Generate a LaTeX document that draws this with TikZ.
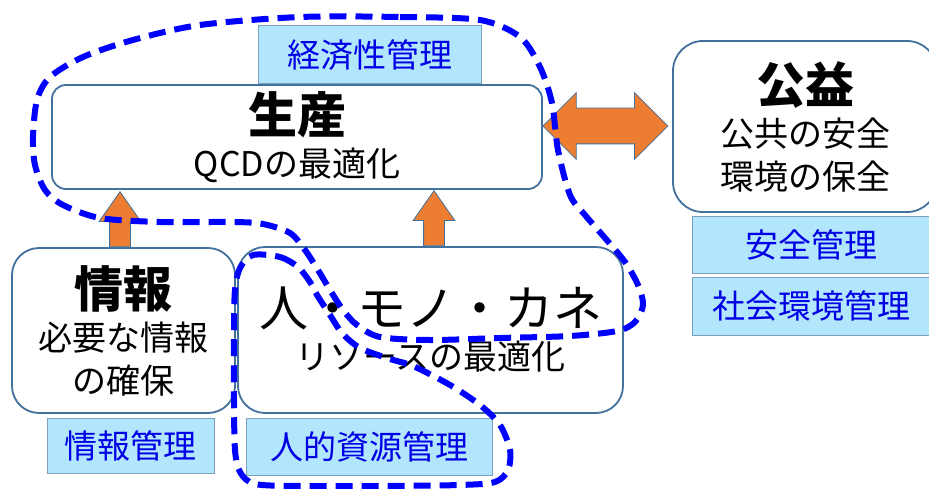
\documentclass[tikz,border=0pt]{standalone}
\usepackage{fontspec}
\setmainfont{Noto Sans CJK JP}
\usetikzlibrary{positioning}
\usetikzlibrary{shapes.arrows, calc}
\definecolor{boxLine}{RGB}{65,113,156}
\definecolor{arrowFill}{RGB}{237,125,49}
\definecolor{mgmtFill}{RGB}{178,230,252}
\definecolor{mgmtLine}{RGB}{125,160,190}
\definecolor{mgmtText}{RGB}{0,0,230}
\definecolor{loopBlue}{RGB}{0,0,255}
\tikzset{%
	% boxes and labels
	base/.style = {rectangle, draw=boxLine, line width=1.8pt, fill=white,
		inner sep=0pt, align=center, text centered},
	bigbox/.style = {base, rounded corners=27pt, font=\fontsize{34}{43}\selectfont},
	mgmt/.style = {rectangle, draw=mgmtLine, line width=1pt, fill=mgmtFill,
		inner sep=0pt, minimum height=57pt, text=mgmtText,
		font=\fontsize{33}{40}\selectfont},
	% orange arrows
	uparrow/.style = {single arrow, shape border rotate=90, draw=boxLine,
		line width=0.8pt, fill=arrowFill, inner sep=10pt, minimum height=55pt,
		minimum width=41pt, single arrow head extend=10.5pt, single arrow tip angle=70},
	lrarrow/.style = {double arrow, draw=boxLine, line width=0.8pt, fill=arrowFill,
		inner sep=17.5pt, minimum height=125pt, minimum width=66pt,
		double arrow head extend=15.5pt, double arrow tip angle=90},
	loopline/.style = {draw=loopBlue, line width=6pt, dash pattern=on 17pt off 9pt}
}
\newcommand{\ttl}[1]{{\fontsize{49}{52}\selectfont\bfseries #1}}

\begin{document}
\begin{tikzpicture}[x=1pt, y=-1pt]
	\useasboundingbox (0,0) rectangle (929,489);
	% main boxes
	\node (prod) [bigbox, rounded corners=14pt, minimum width=490pt, minimum height=104pt] at (297,137) {\ttl{生産}\\QCDの最適化};
	\node (pub) [bigbox, rounded corners=30pt, minimum width=264pt, minimum height=171pt] at (805,126.5) {\ttl{公益}\\公共の安全\\環境の保全};
	\node (info) [bigbox, minimum width=223pt, minimum height=165pt] at (123.5,330.5) {\ttl{情報}\\必要な情報\\の確保};
	\node (res) [bigbox, minimum width=385pt, minimum height=166pt] at (430.5,330) {{\fontsize{49}{52}\selectfont 人・モノ・カネ}\\リソースの最適化};
	% management labels
	\node (ecoLbl) [mgmt, minimum width=223pt, minimum height=58pt, anchor=south west] at ([xshift=207pt]prod.north west) {経済性管理};
	\node (safeLbl) [mgmt, minimum width=238pt, anchor=north west] at ([xshift=20pt, yshift=-3pt]pub.south west) {安全管理};
	\node (socLbl) [mgmt, minimum width=238pt, minimum height=58pt, below=3pt of safeLbl] {社会環境管理};
	\node (infoLbl) [mgmt, minimum width=167pt, minimum height=55pt, anchor=north] at ([xshift=7pt, yshift=-4pt]info.south) {情報管理};
	\node (hrLbl) [mgmt, minimum width=246pt, anchor=north west] at ([xshift=9pt, yshift=-4pt]res.south west) {人的資源管理};
	% arrows
	\node (upInfo) [uparrow, anchor=tail] at ([xshift=-3.5pt]info.north) {};
	\node (upRes) [uparrow, anchor=tail] at ([xshift=3.5pt]res.north) {};
	\node (lrPub) [lrarrow] at ($(prod.east)+(62.5,-11)$) {};
	% dashed loops
	\draw[loopline] plot[smooth cycle, tension=0.5] coordinates {
		(300,17) (400,17) (480,20) (520,37) (540,67) (552,103) (558,150) (570,195)
		(585,215) (605,238) (625,262) (638,285) (643,305) (635,322) (617,331)
		(570,336) (500,338) (430,340) (380,337) (357,325) (343,310) (330,290)
		(318,270) (305,250) (290,233) (263,224) (233,222) (160,222) (100,218)
		(63,205) (45,190) (35,165) (33,137) (37,100) (50,77) (83,57) (133,40) (200,25)};
	\draw[loopline] plot[smooth cycle, tension=0.5] coordinates {
		(253,255) (280,257) (298,267) (310,282) (317,295) (330,315) (342,333)
		(360,348) (390,359) (413,366) (450,385) (480,405) (500,425) (510,450)
		(508,470) (495,482) (460,485) (380,486) (300,486) (255,484) (240,472)
		(235,450) (234,400) (234,330) (235,290) (240,268)};
\end{tikzpicture}
\end{document}
